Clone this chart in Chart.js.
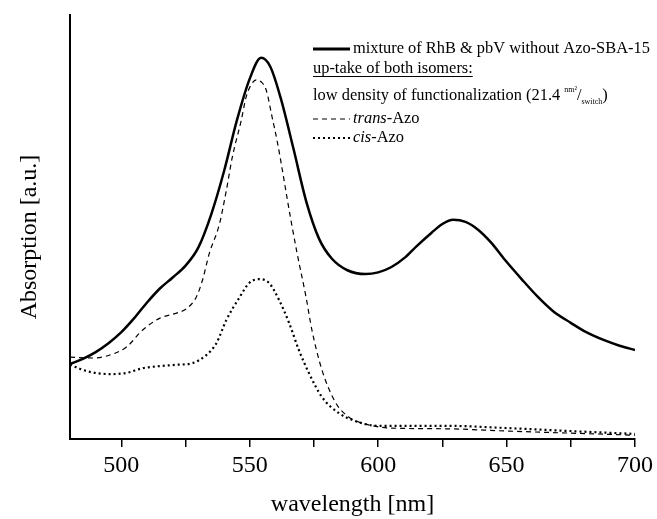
<!DOCTYPE html>
<html><head><meta charset="utf-8">
<script src="https://cdn.jsdelivr.net/npm/chart.js@4"></script>
<style>html,body{margin:0;padding:0;background:#fff;overflow:hidden}canvas{display:block}</style>
</head><body>
<canvas id="c" width="657" height="519"></canvas>
<script>
// ---- data ----
const mixWl  = [480,485,490,495,500,505,510,515,520,525,530,535,540,545,550,554.4,558,562,567,572,577,582,588,595,600,605,610.6,615,620.7,625,629.2,634,639,644,649.4,656,662.2,668,675,681,688,694,700];
const mixAbs = [0.177,0.189,0.205,0.226,0.252,0.285,0.322,0.355,0.381,0.409,0.452,0.530,0.632,0.752,0.850,0.899,0.878,0.805,0.685,0.560,0.472,0.425,0.398,0.389,0.393,0.405,0.429,0.455,0.486,0.507,0.517,0.512,0.493,0.463,0.422,0.376,0.335,0.302,0.274,0.252,0.233,0.22,0.210];

const transWl  = [480,489,495.5,502,508.3,515,521.5,525.3,529.2,531.6,534.3,538.1,540.9,543.2,546.7,548.6,550.5,552.5,554.5,556.4,558.7,560.6,566,568.4,571.9,574.2,578.1,583.5,588.5,592.4,598,604,627,649,674,700];
const transAbs = [0.193,0.191,0.198,0.217,0.257,0.285,0.297,0.307,0.335,0.375,0.439,0.505,0.587,0.665,0.752,0.807,0.835,0.847,0.842,0.823,0.759,0.705,0.517,0.439,0.335,0.257,0.163,0.085,0.052,0.040,0.031,0.026,0.024,0.019,0.014,0.009];

const cisWl  = [480,486.6,495.5,502.1,508.3,514.9,521.5,527.7,533.1,537,540.9,545.9,549.8,553.6,557.5,561.4,565.3,569.1,573,578.1,584.7,591.2,600.2,627.3,649.4,673.8,700];
const cisAbs = [0.175,0.160,0.153,0.156,0.167,0.172,0.175,0.179,0.198,0.226,0.281,0.333,0.368,0.377,0.368,0.328,0.274,0.210,0.156,0.099,0.061,0.042,0.031,0.031,0.026,0.019,0.012];

const xTickValues = [500,525,550,575,600,625,650,675,700];
const xTickLabels = ['500','','550','','600','','650','','700'];

const xTitle = 'wavelength [nm]';
const yTitle = 'Absorption [a.u.]';
const legendMain = 'mixture of RhB & pbV without Azo-SBA-15';
const legendHeader = 'up-take of both isomers:';
const legendDensity = ['low density of functionalization (21.4 ', 'nm²', '/', 'switch', ')'];
const legendTrans = ['trans', '-Azo'];
const legendCis = ['cis', '-Azo'];

const toPts = (xs, ys) => xs.map((x, i) => ({x: x, y: ys[i]}));
const SERIF = '"Liberation Serif", "Times New Roman", serif';

const overlay = {
  id: 'overlay',
  afterDraw(chart) {
    const ctx = chart.ctx;
    ctx.save();
    ctx.fillStyle = '#000';
    ctx.strokeStyle = '#000';
    // y-axis title
    ctx.save();
    ctx.translate(30, 237);
    ctx.rotate(-Math.PI / 2);
    ctx.font = '24px ' + SERIF;
    ctx.textAlign = 'center';
    ctx.textBaseline = 'middle';
    ctx.fillText(yTitle, 0, 0);
    ctx.restore();

    ctx.textBaseline = 'middle';
    ctx.textAlign = 'left';
    const f = '16.4px ' + SERIF;
    const fi = 'italic 16.4px ' + SERIF;
    const fs = '8px ' + SERIF;
    const Y = [49, 69, 96, 119, 138];
    // line 1
    ctx.lineWidth = 3; ctx.setLineDash([]);
    ctx.beginPath(); ctx.moveTo(313, Y[0]); ctx.lineTo(350, Y[0]); ctx.stroke();
    ctx.font = f; ctx.fillText(legendMain, 353, Y[0]);
    // line 2
    ctx.fillText(legendHeader, 313, Y[1]);
    const w2 = ctx.measureText(legendHeader).width;
    ctx.lineWidth = 1;
    ctx.beginPath(); ctx.moveTo(313, Y[1] + 7.5); ctx.lineTo(313 + w2, Y[1] + 7.5); ctx.stroke();
    // line 3
    let x = 313;
    ctx.font = f; ctx.fillText(legendDensity[0], x, Y[2]); x += ctx.measureText(legendDensity[0]).width;
    ctx.font = fs; ctx.fillText(legendDensity[1], x, Y[2] - 6); x += ctx.measureText(legendDensity[1]).width;
    ctx.font = f; ctx.fillText(legendDensity[2], x, Y[2]); x += ctx.measureText(legendDensity[2]).width;
    ctx.font = fs; ctx.fillText(legendDensity[3], x, Y[2] + 6); x += ctx.measureText(legendDensity[3]).width;
    ctx.font = f; ctx.fillText(legendDensity[4], x, Y[2]);
    // line 4
    ctx.lineWidth = 1.2; ctx.setLineDash([5, 4]);
    ctx.beginPath(); ctx.moveTo(313, Y[3]); ctx.lineTo(350, Y[3]); ctx.stroke();
    ctx.setLineDash([]);
    x = 353;
    ctx.font = fi; ctx.fillText(legendTrans[0], x, Y[3]); x += ctx.measureText(legendTrans[0]).width;
    ctx.font = f; ctx.fillText(legendTrans[1], x, Y[3]);
    // line 5
    ctx.lineWidth = 2; ctx.setLineDash([2, 3]);
    ctx.beginPath(); ctx.moveTo(313, Y[4]); ctx.lineTo(350, Y[4]); ctx.stroke();
    ctx.setLineDash([]);
    x = 353;
    ctx.font = fi; ctx.fillText(legendCis[0], x, Y[4]); x += ctx.measureText(legendCis[0]).width;
    ctx.font = f; ctx.fillText(legendCis[1], x, Y[4]);
    ctx.restore();
  }
};

new Chart(document.getElementById('c'), {
  type: 'line',
  data: {
    datasets: [
      {label: 'mixture', data: toPts(mixWl, mixAbs), borderColor: '#000', borderWidth: 2.5, pointRadius: 0, fill: false, cubicInterpolationMode: 'monotone'},
      {label: 'trans', data: toPts(transWl, transAbs), borderColor: '#000', borderWidth: 1.2, borderDash: [5, 4], pointRadius: 0, fill: false, cubicInterpolationMode: 'monotone'},
      {label: 'cis', data: toPts(cisWl, cisAbs), borderColor: '#000', borderWidth: 2.2, borderDash: [2, 3], pointRadius: 0, fill: false, cubicInterpolationMode: 'monotone'}
    ]
  },
  options: {
    responsive: false,
    animation: false,
    devicePixelRatio: 1,
    layout: {padding: {left: 0, right: 20, top: 15, bottom: 0}},
    plugins: {legend: {display: false}, tooltip: {enabled: false}},
    scales: {
      x: {
        type: 'linear', min: 480, max: 700,
        afterBuildTicks: s => { s.ticks = xTickValues.map(v => ({value: v})); },
        afterFit: s => { s.height = 80; },
        ticks: {callback: (v, i) => xTickLabels[i], color: '#000', font: {family: SERIF, size: 24}, padding: 4, maxRotation: 0, autoSkip: false},
        grid: {drawOnChartArea: false, drawTicks: true, tickLength: 8, color: '#000', lineWidth: 1.5},
        border: {display: true, color: '#000', width: 2},
        title: {display: true, text: xTitle, color: '#000', font: {family: SERIF, size: 24}, padding: {top: 0, bottom: 0}}
      },
      y: {
        min: 0, max: 1,
        afterFit: s => { s.width = 70; },
        ticks: {display: false},
        grid: {display: false},
        border: {display: true, color: '#000', width: 2}
      }
    }
  },
  plugins: [overlay]
});
</script>
</body></html>
